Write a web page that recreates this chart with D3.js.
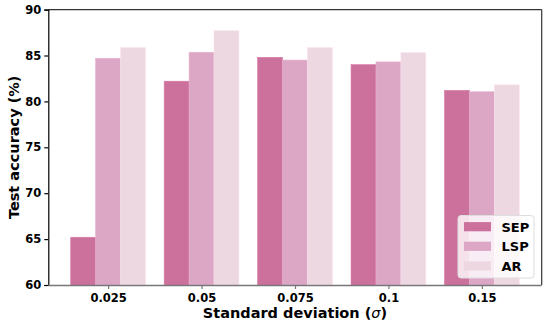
<!DOCTYPE html>
<html><head><meta charset="utf-8">
<script src="https://cdn.jsdelivr.net/npm/d3@7"></script>
<style>body{margin:0;background:#fff}svg{display:block}text{font-family:"DejaVu Sans",sans-serif;font-weight:bold}</style>
</head><body><svg id="c" width="547" height="322"></svg>
<script>
const categories = ["0.025","0.05","0.075","0.1","0.15"];
const seriesNames = ["SEP","LSP","AR"];
const SEP = [65.2, 82.2, 84.8, 84.0, 81.2];
const LSP = [84.7, 85.35, 84.5, 84.3, 81.05];
const AR  = [85.85, 87.7, 85.85, 85.3, 81.8];
const yTicks = [60,65,70,75,80,85,90];
const colors = ["#cc709c","#dca6c5","#edd7e1"];
const series = [SEP, LSP, AR];

const svg = d3.select("#c");
const L=48.3, R=541.7, T=9.6, B=285;
const x = d3.scaleLinear().domain([-0.64, 4.64]).range([L,R]);
const y = d3.scaleLinear().domain([60,90]).range([B,T]);
const bw = 0.8/3;

// bars
series.forEach((vals, s) => {
  svg.append("g").selectAll("rect").data(vals).join("rect")
    .attr("x", (d,i)=>x(i - 0.4 + s*bw))
    .attr("width", x(bw)-x(0))
    .attr("y", d=>y(d))
    .attr("height", d=>B-y(d))
    .attr("fill", colors[s])
    .attr("stroke", d3.color(colors[s]).brighter(0.15))
    .attr("stroke-width", 0.6);
});

// spines
svg.append("line").attr("x1",L).attr("x2",R).attr("y1",T).attr("y2",T).attr("stroke","#333").attr("stroke-width",1.2);
svg.append("line").attr("x1",R).attr("x2",R).attr("y1",T).attr("y2",B).attr("stroke","#333").attr("stroke-width",1.2);

// y axis
const ya = svg.append("g").attr("transform",`translate(${L},0)`)
  .call(d3.axisLeft(y).tickValues(yTicks).tickSize(4).tickPadding(3));
ya.select(".domain").attr("stroke","#000").attr("stroke-width",1.2);
ya.selectAll(".tick line").attr("stroke","#000").attr("stroke-width",1.2);
ya.selectAll("text").attr("font-size",11.5).attr("fill","#000").attr("font-family","DejaVu Sans").attr("font-weight","bold");

// x axis
const xa = svg.append("g").attr("transform",`translate(0,${B})`)
  .call(d3.axisBottom(x).tickValues(d3.range(categories.length)).tickFormat(i=>categories[i]).tickSize(4).tickPadding(5));
xa.select(".domain").attr("stroke","#777").attr("stroke-width",1.5).attr("d",`M${L},0.5H${R}`);
xa.selectAll(".tick line").attr("stroke","#777").attr("stroke-width",1.2);
xa.selectAll("text").attr("font-size",11.5).attr("fill","#000").attr("font-family","DejaVu Sans").attr("font-weight","bold");

// axis labels
const xl = svg.append("text").attr("x",(L+R)/2).attr("y",318).attr("text-anchor","middle").attr("font-size",14.5);
xl.append("tspan").text("Standard deviation (");
xl.append("tspan").attr("font-style","italic").attr("font-weight","normal").text("σ");
xl.append("tspan").text(")");
svg.append("text").attr("transform",`translate(18.5,${(T+B)/2}) rotate(-90)`).attr("text-anchor","middle")
  .attr("font-size",14.5).text("Test accuracy (%)");

// legend
const lg = svg.append("g");
lg.append("rect").attr("x",458).attr("y",215.5).attr("width",76).attr("height",62.5).attr("rx",3)
  .attr("fill","rgba(255,255,255,0.8)").attr("stroke","#ddd").attr("stroke-width",1);
seriesNames.forEach((n,i)=>{
  const cy = 226.7 + i*19.6;
  lg.append("rect").attr("x",464).attr("y",cy-4.6).attr("width",27).attr("height",9.2).attr("fill",colors[i]);
  lg.append("text").attr("x",501.5).attr("y",cy+4.8).attr("font-size",13).attr("fill","#000").text(n);
});
</script></body></html>
